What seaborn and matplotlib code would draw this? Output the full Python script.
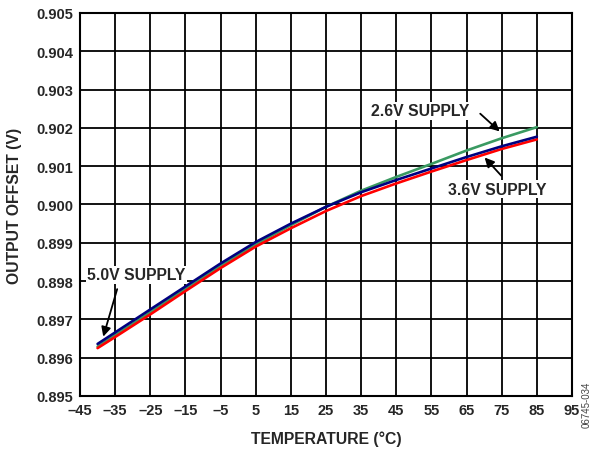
import numpy as np
import pandas as pd
import seaborn as sns
import matplotlib.pyplot as plt

temps = [-40, -35, -25, -15, -5, 5, 15, 25, 35, 45, 55, 65, 75, 85]
supply_26 = [0.89629, 0.89659, 0.89719, 0.89780, 0.89840, 0.89896, 0.89946, 0.89994,
             0.90036, 0.90072, 0.90106, 0.90141, 0.90173, 0.90202]
supply_36 = [0.89625, 0.89654, 0.89713, 0.89774, 0.89834, 0.89890, 0.89938, 0.89983,
             0.90022, 0.90055, 0.90086, 0.90116, 0.90145, 0.90170]
supply_50 = [0.89636, 0.89666, 0.89726, 0.89786, 0.89846, 0.89902, 0.89950, 0.89994,
             0.90032, 0.90064, 0.90094, 0.90124, 0.90152, 0.90177]

x_ticks = list(range(-45, 96, 10))
x_tick_labels = [("\u2013" + str(-t)) if t < 0 else str(t) for t in x_ticks]
y_ticks = [0.895, 0.896, 0.897, 0.898, 0.899, 0.900, 0.901, 0.902, 0.903, 0.904, 0.905]

df = pd.DataFrame({
    "temp": temps * 3,
    "offset": supply_26 + supply_36 + supply_50,
    "supply": ["2.6V"] * len(temps) + ["3.6V"] * len(temps) + ["5.0V"] * len(temps),
})

sns.set_style("white")
plt.rcParams['font.family'] = ['Liberation Sans', 'DejaVu Sans']

fig = plt.figure(figsize=(5.95, 4.52), dpi=100)
ax = fig.add_axes([80 / 595, 1 - 397 / 452, (572 - 80) / 595, (397 - 14) / 452])

palette = {"2.6V": "#3a9a62", "3.6V": "#ff0000", "5.0V": "#000080"}
sns.lineplot(data=df, x="temp", y="offset", hue="supply", palette=palette,
             hue_order=["2.6V", "3.6V", "5.0V"], linewidth=1.9, legend=False, ax=ax)

ax.set_xlim(-45, 95)
ax.set_ylim(0.895, 0.905)
ax.set_xticks(x_ticks)
ax.set_xticklabels(x_tick_labels, fontweight="bold", fontsize=10.5)
ax.set_yticks(y_ticks)
ax.set_yticklabels(["%.3f" % v for v in y_ticks], fontweight="bold", fontsize=10.5)
ax.tick_params(length=0, pad=5)
ax.grid(True, color="black", linewidth=1.3)
for s in ax.spines.values():
    s.set_color("black")
    s.set_linewidth(1.5)

ax.set_xlabel("TEMPERATURE (°C)", fontweight="bold", fontsize=11.3, labelpad=10)
ax.set_ylabel("OUTPUT OFFSET (V)", fontweight="bold", fontsize=11.3, labelpad=10)

arrow = dict(arrowstyle="-|>", color="black", lw=1.3, mutation_scale=14)
box = dict(facecolor="white", edgecolor="none", pad=1)
ax.annotate("", xy=(75.0, 0.90186), xytext=(68.3, 0.90242), arrowprops=arrow)
ax.text(51.8, 0.90245, "2.6V SUPPLY", ha="center", va="center", fontweight="bold",
        fontsize=11.3, bbox=box)
ax.annotate("", xy=(69.6, 0.90128), xytext=(75.4, 0.90070), arrowprops=arrow)
ax.text(73.6, 0.90040, "3.6V SUPPLY", ha="center", va="center", fontweight="bold",
        fontsize=11.3, bbox=box)
ax.annotate("", xy=(-38.6, 0.89648), xytext=(-34.2, 0.89786), arrowprops=arrow)
ax.text(-28.9, 0.89817, "5.0V SUPPLY", ha="center", va="center", fontweight="bold",
        fontsize=11.3, bbox=box)

fig.text(587 / 595, 1 - 405 / 452, "06745-034", rotation=90, ha="center", va="center",
         fontsize=7, color="#444444")

fig.savefig("out.png", dpi=100)
